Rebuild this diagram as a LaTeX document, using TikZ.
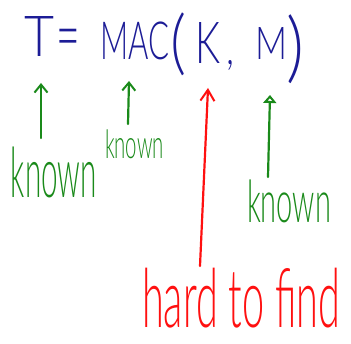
\documentclass[tikz,border=0pt]{standalone}
\usepackage{fontspec}
\setmainfont{Lato}[UprightFont=* Light]
\usepackage{graphicx}
\usetikzlibrary{arrows.meta}
\definecolor{inkblue}{HTML}{1C1C96}
\definecolor{inkgreen}{HTML}{1A8A1A}
\definecolor{inkred}{HTML}{FF1010}
\newcommand{\hwtext}[3]{\resizebox*{#1pt}{#2pt}{#3}}
\begin{document}
\begin{tikzpicture}[x=1pt,y=-1pt,
  glyph/.style={anchor=north west,inner sep=0pt,outer sep=0pt},
  formula/.style={glyph,text=inkblue},
  knowntext/.style={glyph,text=inkgreen},
  hardtext/.style={glyph,text=inkred},
  greenarrow/.style={draw=inkgreen,line width=2.2pt,line cap=round,-{Straight Barb[length=8pt,width=13pt,line width=2pt]}},
  redarrow/.style={draw=inkred,line width=2.2pt,line cap=round,-{Straight Barb[length=11pt,width=14pt,line width=2pt]}},
  trianglearrow/.style={draw=inkgreen,line width=2.2pt,line cap=round,-{Triangle[open,length=8pt,width=13pt,line width=2pt]}}
]
\useasboundingbox[fill=white] (0,0) rectangle (351,344);
% formula
\node[formula] (T) at (24,17) {\hwtext{30}{40}{T}};
\node[formula,anchor=base] (eq) at (68,61) {\scalebox{1.7}[3]{\fontsize{24}{24}\selectfont =}};
\node[formula] (mac) at (100,22) {\hwtext{69}{38}{MAC}};
\node[formula] (lp) at (170,13) {\hwtext{16}{63}{(}};
\node[formula] (K) at (195,22) {\hwtext{25}{41}{K}};
\node[formula] (comma) at (226,60) {\hwtext{8}{10}{,}};
\node[formula] (M) at (255,28) {\hwtext{32}{32}{M}};
\node[formula] (rp) at (286,15) {\hwtext{18}{69}{)}};
% labels
\node[knowntext] (k1) at (11,147) {\hwtext{86}{51}{known}};
\node[knowntext] (k2) at (105,130) {\hwtext{59}{29}{known}};
\node[knowntext] (k3) at (247,180) {\hwtext{84}{43}{known}};
\node[hardtext] (hard) at (142,268) {\hwtext{198}{60}{hard to find}};
% arrow ends
\coordinate (a1s) at (41,138); \coordinate (a1e) at (41,83);
\coordinate (a2s) at (128,124); \coordinate (a2e) at (129,81);
\coordinate (a3s) at (200,266); \coordinate (a3e) at (208,88);
\coordinate (a4s) at (268,177); \coordinate (a4e) at (270,95);
\draw[greenarrow] (a1s) -- (a1e);
\draw[greenarrow] (a2s) -- (a2e);
\draw[redarrow] (a3s) -- (a3e);
\draw[trianglearrow] (a4s) -- (a4e);
\end{tikzpicture}
\end{document}
